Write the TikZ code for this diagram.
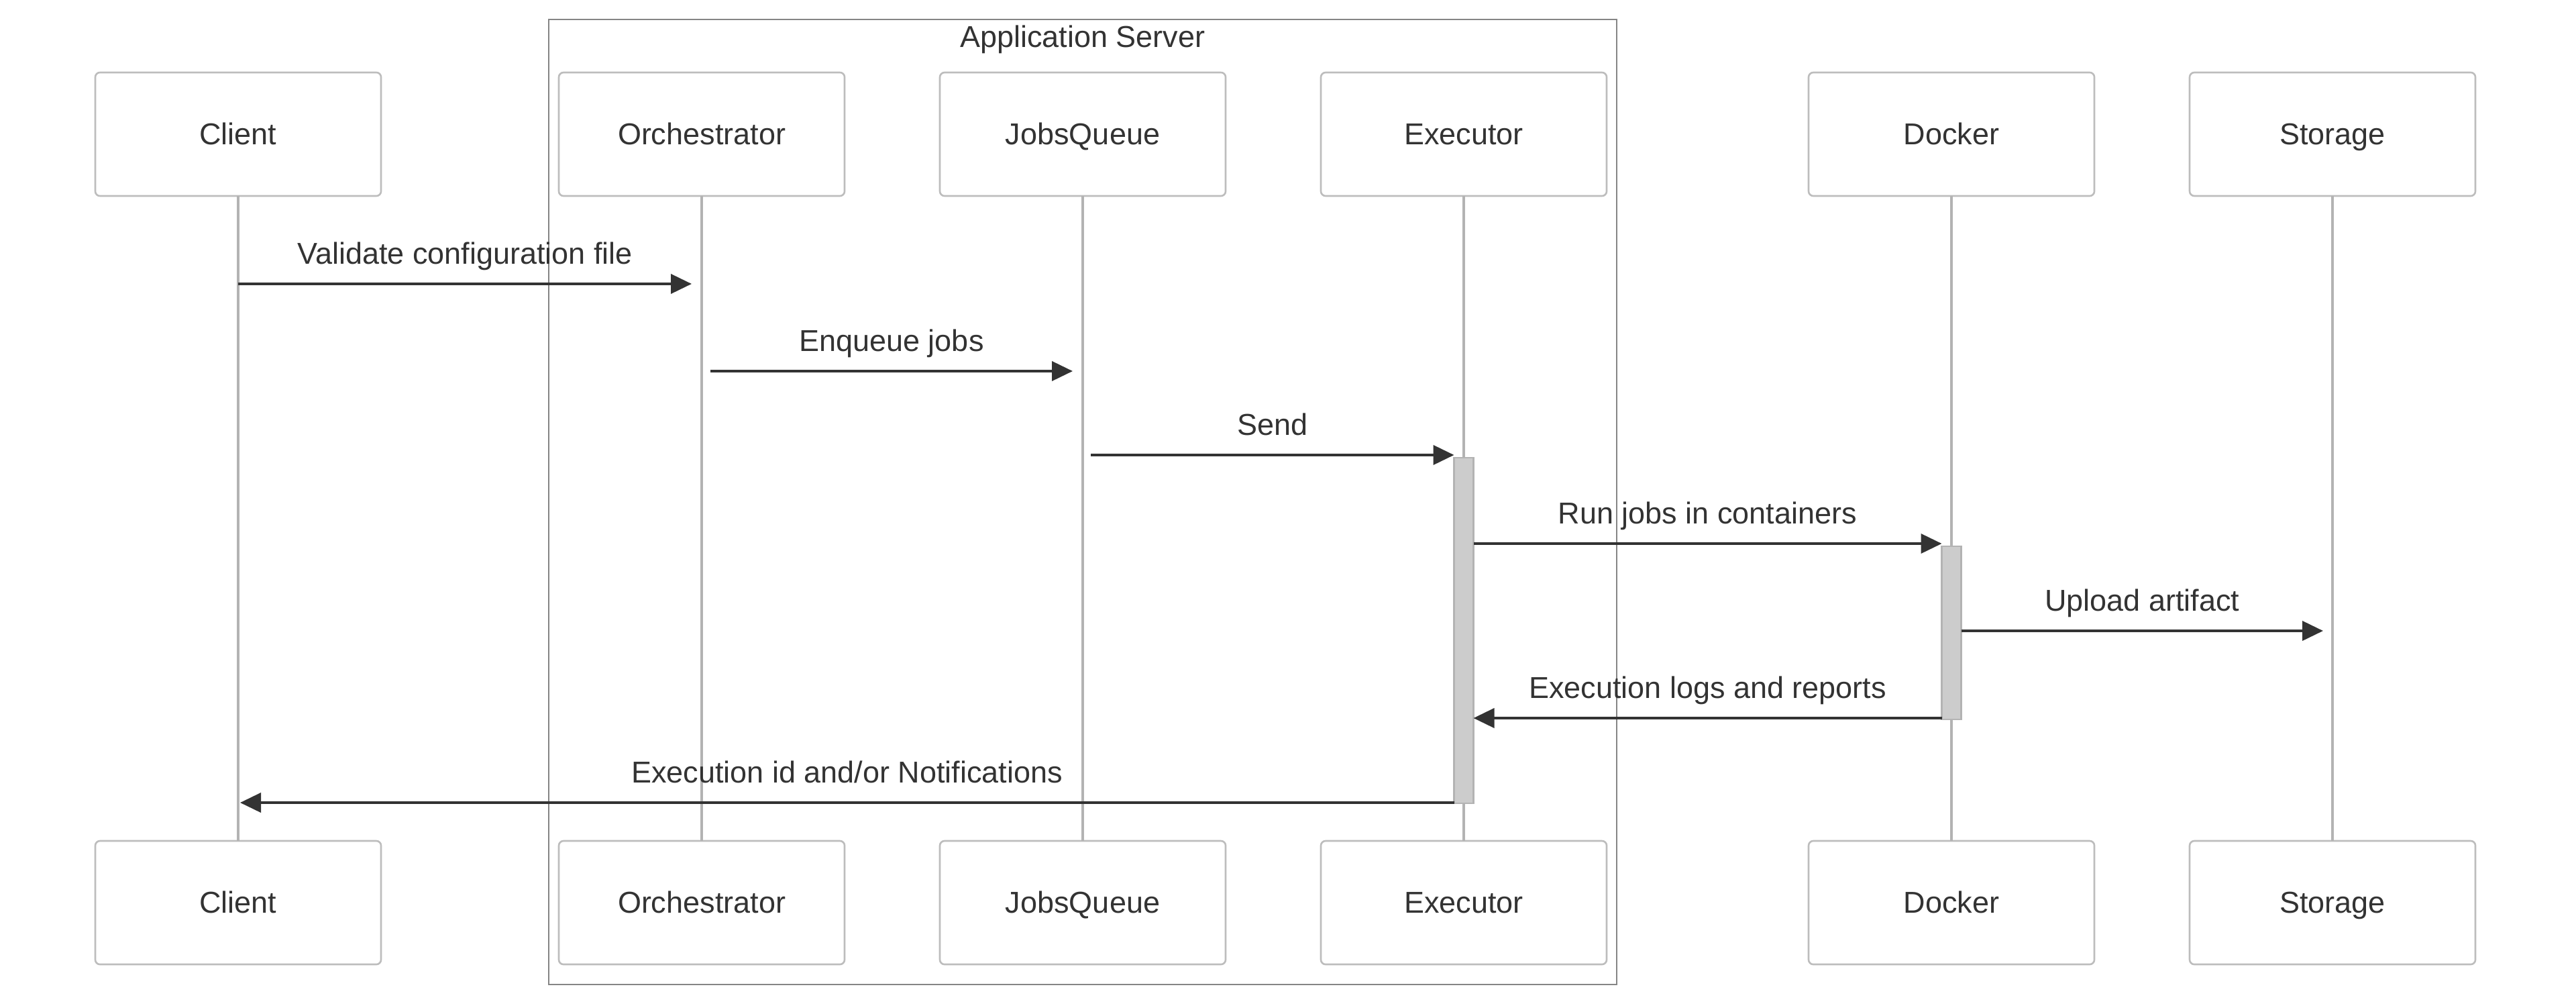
\documentclass[tikz,border=0pt]{standalone}
\usepackage{fontspec}
\setmainfont{Liberation Sans}
\usepackage{xcolor}
\usepackage{tikz}
\usetikzlibrary{positioning}
\usetikzlibrary{calc,arrows.meta}

\definecolor{TextGrey}{HTML}{333333}
\definecolor{ActorBorder}{HTML}{BDBDBD}
\definecolor{LifeLine}{HTML}{B3B3B3}
\definecolor{GroupBorder}{HTML}{858585}
\definecolor{ActivationFill}{HTML}{CCCCCC}

\begin{document}
\begin{tikzpicture}[
	actor/.style={draw=ActorBorder, line width=0.75pt, rounded corners=0.07cm, fill=white,
		minimum width=4.26cm, minimum height=1.84cm, inner sep=0pt, outer sep=0pt,
		text=TextGrey, font=\fontsize{12.8}{15}\selectfont, text height=0.88em, text depth=0pt},
	lifeline/.style={draw=LifeLine, line width=1.2pt},
	group/.style={draw=GroupBorder, line width=0.8pt},
	activation/.style={draw=LifeLine, line width=0.6pt, fill=ActivationFill,
		minimum width=0.29cm, inner sep=0pt, outer sep=0pt},
	message/.style={draw=TextGrey, line width=1.1pt, -{Triangle[length=0.31cm, width=0.29cm]}},
	boxtitle/.style={anchor=base, inner sep=0pt, text=TextGrey, font=\fontsize{12.8}{15}\selectfont},
	msglabel/.style={boxtitle, yshift=0.30cm},
	]
	
	\useasboundingbox (0.00cm,0.00cm) rectangle (38.40cm,-15.01cm);
	
	% ---------------------
	% Actors (top row)
	\node[actor] (Client) at (3.55cm,-2.00cm) {Client};
	\node[actor, right=2.65cm of Client] (Orchestrator) {Orchestrator};
	\node[actor, right=1.42cm of Orchestrator] (JobsQueue) {JobsQueue};
	\node[actor, right=1.42cm of JobsQueue] (Executor) {Executor};
	\node[actor, right=3.01cm of Executor] (Docker) {Docker};
	\node[actor, right=1.42cm of Docker] (Storage) {Storage};
	
	% Actors (bottom row)
	\node[actor, below=9.61cm of Client] (ClientEnd) {Client};
	\node[actor, below=9.61cm of Orchestrator] (OrchestratorEnd) {Orchestrator};
	\node[actor, below=9.61cm of JobsQueue] (JobsQueueEnd) {JobsQueue};
	\node[actor, below=9.61cm of Executor] (ExecutorEnd) {Executor};
	\node[actor, below=9.61cm of Docker] (DockerEnd) {Docker};
	\node[actor, below=9.61cm of Storage] (StorageEnd) {Storage};
	
	% ---------------------
	% Application Server box
	\path (Orchestrator.north west) +(-0.15cm,0.79cm) coordinate (GroupNW);
	\path (ExecutorEnd.south east)  +(0.15cm,-0.30cm) coordinate (GroupSE);
	\draw[group] (GroupNW) rectangle (GroupSE);
	
	\path (JobsQueue.north) +(0.00cm,0.38cm) coordinate (GroupTitleBase);
	\node[boxtitle] (GroupTitle) at (GroupTitleBase) {Application Server};
	
	% ---------------------
	% Lifelines
	\draw[lifeline] (Client.south) -- (ClientEnd.north);
	\draw[lifeline] (Orchestrator.south) -- (OrchestratorEnd.north);
	\draw[lifeline] (JobsQueue.south) -- (JobsQueueEnd.north);
	\draw[lifeline] (Executor.south) -- (ExecutorEnd.north);
	\draw[lifeline] (Docker.south) -- (DockerEnd.north);
	\draw[lifeline] (Storage.south) -- (StorageEnd.north);
	
	% Activations
	\path (Executor) +(0.00cm,-4.82cm) coordinate (ExecutorActive);
	\node[activation, minimum height=5.15cm, anchor=north] (ExecutorBar) at (ExecutorActive) {};
	
	\path (Docker) +(0.00cm,-6.14cm) coordinate (DockerActive);
	\node[activation, minimum height=2.58cm, anchor=north] (DockerBar) at (DockerActive) {};
	
	% ------------------------------------------------
	% Messages
	\path (Client) 		 +(0.00cm,-2.23cm) coordinate (ValidateStart);
	\path (Orchestrator) +(-0.15cm,-2.23cm) coordinate (ValidateEnd);
	\draw[message] (ValidateStart) -- (ValidateEnd);
	\node[msglabel] (ValidateLabel) at ($(ValidateStart)!0.5!(ValidateEnd)$) {Validate configuration file};
	
	\path (Orchestrator) +(0.13cm,-3.53cm) coordinate (EnqueueStart);
	\path (JobsQueue) 	 +(-0.15cm,-3.53cm) coordinate (EnqueueEnd);
	\draw[message] (EnqueueStart) -- (EnqueueEnd);
	\node[msglabel] (EnqueueLabel) at ($(EnqueueStart)!0.5!(EnqueueEnd)$) {Enqueue jobs};
	
	\path (JobsQueue) +(0.12cm,-4.78cm) coordinate (SendStart);
	\path (SendStart -| ExecutorBar.west) coordinate (SendEnd);
	\draw[message] (SendStart) -- (SendEnd);
	\node[msglabel] (SendLabel) at ($(SendStart)!0.5!(SendEnd)$) {Send};
	
	\path (Executor) +(0.00cm,-6.10cm) coordinate (RunJobsLevel);
	\path (RunJobsLevel -| ExecutorBar.east) coordinate (RunJobsStart);
	\path (RunJobsLevel -| DockerBar.west) 	 coordinate (RunJobsEnd);
	\draw[message] (RunJobsStart) -- (RunJobsEnd);
	\node[msglabel] (RunJobsLabel) at ($(RunJobsStart)!0.5!(RunJobsEnd)$) {Run jobs in containers};
	
	\path (Storage) +(-0.14cm,-7.40cm) coordinate (UploadEnd);
	\path (UploadEnd -| DockerBar.east) coordinate (UploadStart);
	\draw[message] (UploadStart) -- (UploadEnd);
	\node[msglabel] (UploadLabel) at ($(UploadStart)!0.5!(UploadEnd)$) {Upload artifact};
	
	\path (Docker) +(0.00cm,-8.70cm) coordinate (LogsLevel);
	\path (LogsLevel -| DockerBar.west) 	coordinate (LogsStart);
	\path (LogsLevel -| ExecutorBar.east) coordinate (LogsEnd);
	\draw[message] (LogsStart) -- (LogsEnd);
	\node[msglabel] (LogsLabel) at ($(LogsStart)!0.5!(LogsEnd)$) {Execution logs and reports};
	
	\path (Client) +(0.03cm,-9.96cm) coordinate (NotifyEnd);
	\path (NotifyEnd -| ExecutorBar.west) coordinate (NotifyStart);
	\draw[message] (NotifyStart) -- (NotifyEnd);
	\node[msglabel] (NotifyLabel) at ($(NotifyStart)!0.5!(NotifyEnd)$) {Execution id and/or Notifications};
	
\end{tikzpicture}
\end{document}
